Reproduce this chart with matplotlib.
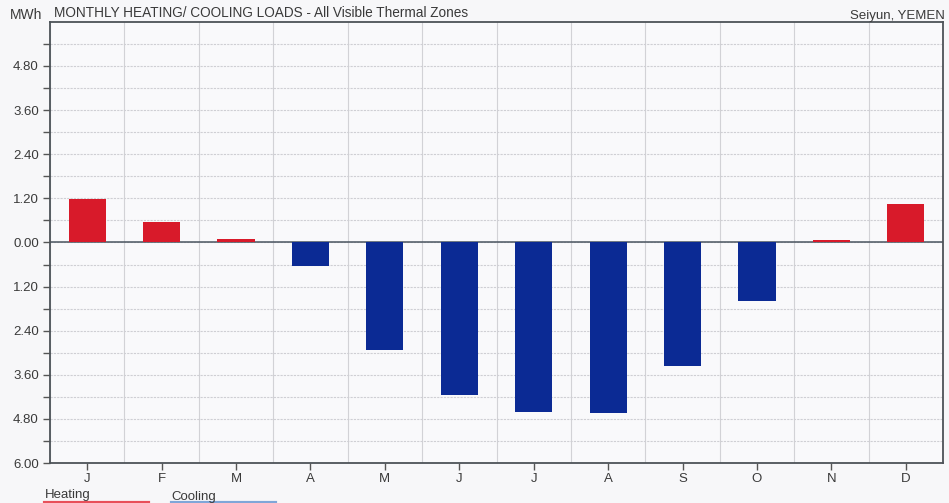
import matplotlib
matplotlib.use("Agg")
import matplotlib.pyplot as plt
from matplotlib.lines import Line2D
import numpy as np

plt.rcParams['font.family'] = ['Liberation Sans', 'DejaVu Sans']

months = ["J", "F", "M", "A", "M", "J", "J", "A", "S", "O", "N", "D"]
heating = [1.17, 0.55, 0.10, 0.0, 0.0, 0.0, 0.0, 0.0, 0.0, 0.0, 0.07, 1.04]
cooling = [0.0, 0.0, 0.0, 0.63, 2.93, 4.14, 4.62, 4.63, 3.35, 1.58, 0.0, 0.0]
ytick_values = [-6.0, -4.8, -3.6, -2.4, -1.2, 0.0, 1.2, 2.4, 3.6, 4.8]

heat_color = "#d81a2a"
cool_color = "#0b2a94"
text_color = "#3a3a3a"

fig = plt.figure(figsize=(9.49, 5.03), dpi=100)
fig.patch.set_facecolor("#f7f7f9")
ax = fig.add_axes([0.0527, 0.0795, 0.941, 0.877])
ax.set_facecolor("#f9f9fb")

x = np.arange(len(months))
ax.bar(x, heating, width=0.5, color=heat_color, zorder=3)
ax.bar(x, -np.array(cooling), width=0.5, color=cool_color, zorder=3)
ax.axhline(0, color="#4a5560", lw=1.1, zorder=2.5)

ax.set_xlim(-0.5, len(months) - 0.5)
ax.set_ylim(-6.0, 6.0)

ax.set_xticks(x)
ax.set_xticklabels(months, fontsize=9.5, color=text_color)
ax.set_xticks(np.arange(-0.5, len(months), 1.0), minor=True)

ax.set_yticks(ytick_values)
ax.set_yticklabels([f"{abs(v):.2f}" for v in ytick_values], fontsize=9.5, color=text_color)
ax.set_yticks(np.arange(-5.4, 6.0, 1.2), minor=True)

ax.tick_params(axis="x", which="major", length=5, width=1, color="#555555", pad=2)
ax.tick_params(axis="x", which="minor", length=0)
ax.tick_params(axis="y", which="both", length=5, width=1, color="#555555", pad=3)

ax.grid(True, which="minor", axis="x", color="#d2d2d6", lw=0.8)
ax.grid(True, which="both", axis="y", color="#cfcfd4", lw=0.8, ls=(0, (2, 1)))
ax.set_axisbelow(True)

for side in ["left", "bottom", "top", "right"]:
    ax.spines[side].set_color("#4d5358")
    ax.spines[side].set_linewidth(1.3)

fig.text(0.010, 0.957, "MWh", fontsize=10, color=text_color, va="bottom")
fig.text(0.057, 0.961, "MONTHLY HEATING/ COOLING LOADS - All Visible Thermal Zones",
         fontsize=9.8, color=text_color, va="bottom")
fig.text(0.996, 0.957, "Seiyun, YEMEN", fontsize=9.5, color=text_color,
         va="bottom", ha="right")

# legend entries along the bottom edge
fig.text(0.047, 0.003, "Heating", fontsize=9.5, color=text_color, va="bottom")
fig.text(0.181, 0.0, "Cooling", fontsize=9.5, color=text_color, va="bottom")
fig.add_artist(Line2D([0.047, 0.156], [0.0, 0.0], color="#e8505a", lw=3,
                      transform=fig.transFigure))
fig.add_artist(Line2D([0.181, 0.29], [0.0, 0.0], color="#7fa6d8", lw=3,
                      transform=fig.transFigure))

fig.savefig("out.png", dpi=100, facecolor=fig.get_facecolor())
